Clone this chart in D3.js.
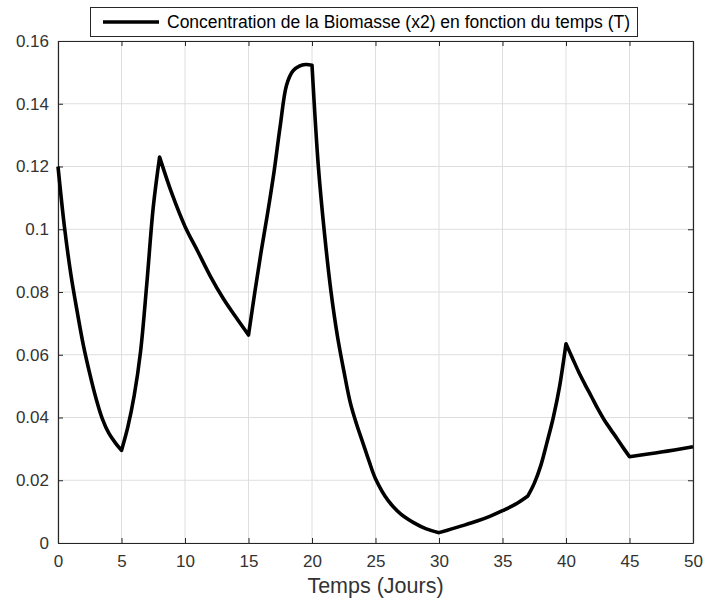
<!DOCTYPE html>
<html>
<head>
<meta charset="utf-8">
<script src="https://cdn.jsdelivr.net/npm/d3@7"></script>
<style>
  html, body { margin: 0; padding: 0; background: #fff; }
  svg text { font-family: "Liberation Sans", Arial, Helvetica, sans-serif; }
</style>
</head>
<body>
<svg id="chart" width="708" height="604"></svg>
<script>
// Biomass concentration x2 over time (days)
const timeDays = [
  0, 0.5, 1, 1.5, 2, 2.5, 3, 3.5, 4, 4.5, 5,
  5.5, 6, 6.5, 7, 7.5, 8,
  9, 10, 11, 12, 13, 14, 15,
  15.5, 16, 16.5, 17, 17.5, 18, 18.5, 19, 19.5, 20,
  20.5, 21, 21.5, 22, 22.5, 23, 23.5, 24, 24.5, 25, 26, 27, 28, 29, 30,
  31, 32, 33, 34, 35, 36, 37,
  37.5, 38, 38.5, 39, 39.5, 40,
  40.5, 41, 41.5, 42, 42.5, 43, 43.5, 44, 44.5, 45,
  47.5, 50
];
const biomass = [
  0.120, 0.101, 0.086, 0.074, 0.063, 0.054, 0.046, 0.0395, 0.035, 0.032, 0.0295,
  0.037, 0.047, 0.061, 0.083, 0.107, 0.123,
  0.111, 0.1009, 0.093, 0.085, 0.078, 0.072, 0.0663,
  0.080, 0.093, 0.105, 0.118, 0.133, 0.146, 0.1505, 0.1520, 0.1525, 0.1523,
  0.120, 0.098, 0.080, 0.066, 0.055, 0.045, 0.038, 0.032, 0.026, 0.0205, 0.0135, 0.0092, 0.0065, 0.0045, 0.0033,
  0.0045, 0.0057, 0.0070, 0.0085, 0.0103, 0.0123, 0.0150,
  0.019, 0.0245, 0.032, 0.040, 0.050, 0.0635,
  0.059, 0.0545, 0.0505, 0.0467, 0.0428, 0.0393, 0.0363, 0.0334, 0.0304, 0.0275,
  0.029, 0.0307
];
// times where the curve has a corner (feeding / regime switches)
const breakTimes = [5, 8, 15, 20, 30, 37, 40, 45];
const xTicks = [0, 5, 10, 15, 20, 25, 30, 35, 40, 45, 50];
const yTicks = [0, 0.02, 0.04, 0.06, 0.08, 0.1, 0.12, 0.14, 0.16];
const xLabel = "Temps (Jours)";
const legendLabel = "Concentration de la Biomasse (x2) en fonction du temps (T)";

const svg = d3.select("#chart");
const plot = { left: 58, right: 693, top: 41, bottom: 543 };

const x = d3.scaleLinear().domain([0, 50]).range([plot.left, plot.right]);
const y = d3.scaleLinear().domain([0, 0.16]).range([plot.bottom, plot.top]);

const axisColor = "#262626";
const tickColor = "#333";
const gridColor = "#dedede";

// grid lines
const grid = svg.append("g");
grid.selectAll("line.gx").data(xTicks).join("line")
  .attr("x1", d => x(d)).attr("x2", d => x(d))
  .attr("y1", plot.top).attr("y2", plot.bottom)
  .attr("stroke", gridColor).attr("stroke-width", 1);
grid.selectAll("line.gy").data(yTicks).join("line")
  .attr("x1", plot.left).attr("x2", plot.right)
  .attr("y1", d => y(d)).attr("y2", d => y(d))
  .attr("stroke", gridColor).attr("stroke-width", 1);

// axes with inward ticks on all four sides
const fmtY = d => d === 0 ? "0" : String(+d.toFixed(2));
const bottomAxis = d3.axisBottom(x).tickValues(xTicks).tickSizeInner(-5).tickSizeOuter(0).tickPadding(12);
const leftAxis = d3.axisLeft(y).tickValues(yTicks).tickFormat(fmtY).tickSizeInner(-5).tickSizeOuter(0).tickPadding(9);
const topAxis = d3.axisTop(x).tickValues(xTicks).tickSizeInner(-5).tickSizeOuter(0).tickFormat("");
const rightAxis = d3.axisRight(y).tickValues(yTicks).tickSizeInner(-5).tickSizeOuter(0).tickFormat("");

function styleAxis(g) {
  g.select(".domain").attr("stroke", axisColor).attr("stroke-width", 1.2);
  g.selectAll(".tick line").attr("stroke", axisColor).attr("stroke-width", 1);
  g.selectAll(".tick text").attr("fill", tickColor).style("font-size", "17px");
}

svg.append("g").attr("transform", `translate(0,${plot.bottom})`).call(bottomAxis).call(styleAxis);
svg.append("g").attr("transform", `translate(${plot.left},0)`).call(leftAxis).call(styleAxis);
svg.append("g").attr("transform", `translate(0,${plot.top})`).call(topAxis).call(styleAxis);
svg.append("g").attr("transform", `translate(${plot.right},0)`).call(rightAxis).call(styleAxis);

// data line: smooth within each regime, sharp corners at the break times
const pts = timeDays.map((t, i) => [t, biomass[i]]);
const bounds = [0, ...breakTimes, 50];
const segments = [];
for (let i = 0; i < bounds.length - 1; i++) {
  segments.push(pts.filter(p => p[0] >= bounds[i] && p[0] <= bounds[i + 1]));
}
const line = d3.line().x(d => x(d[0])).y(d => y(d[1])).curve(d3.curveCatmullRom.alpha(0.5));
const pathD = segments.map((s, i) => {
  const p = line(s);
  return i ? p.replace(/^M/, "L") : p;
}).join("");
svg.append("path")
  .attr("d", pathD)
  .attr("fill", "none")
  .attr("stroke", "#000")
  .attr("stroke-width", 3.6)
  .attr("stroke-linejoin", "round");

// x label
svg.append("text")
  .attr("x", (plot.left + plot.right) / 2)
  .attr("y", 593)
  .attr("text-anchor", "middle")
  .attr("fill", tickColor)
  .style("font-size", "21.5px")
  .text(xLabel);

// legend
const lg = svg.append("g");
lg.append("rect")
  .attr("x", 90.5).attr("y", 7.5).attr("width", 547).attr("height", 29)
  .attr("fill", "#fff").attr("stroke", axisColor).attr("stroke-width", 1);
lg.append("line")
  .attr("x1", 103).attr("x2", 159).attr("y1", 22).attr("y2", 22)
  .attr("stroke", "#000").attr("stroke-width", 3.6);
lg.append("text")
  .attr("x", 167).attr("y", 28)
  .attr("fill", "#000")
  .style("font-size", "17.5px")
  .text(legendLabel);
</script>
</body>
</html>
